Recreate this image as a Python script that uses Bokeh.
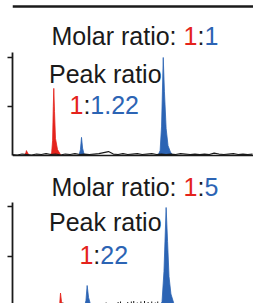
from bokeh.plotting import figure
from bokeh.layouts import column
from bokeh.models import ColumnDataSource, FixedTicker, Span
from bokeh.core.properties import value
from bokeh.embed import file_html
from bokeh.resources import INLINE

RED = "#e4231c"
BLUE = "#2c64b4"
INK = "#1a1a1a"
FONT = value("Liberation Sans")

# ---------------- data: panel 1 (molar ratio 1:1) ----------------
p1_red_a_t = [0.50, 0.56, 0.58, 0.63, 0.71]
p1_red_a_y = [0.00, 0.06, 0.10, 0.05, 0.00]
p1_red_b_t = [1.54, 1.63, 1.67, 1.70, 1.72, 1.75, 1.79, 1.875, 2.00, 2.04]
p1_red_b_y = [0.00, 0.05, 0.30, 1.00, 1.37, 0.90, 0.35, 0.12, 0.02, 0.00]
p1_blue_a_t = [2.77, 2.83, 2.875, 2.92, 2.98, 3.04]
p1_blue_a_y = [0.00, 0.12, 0.37, 0.15, 0.03, 0.00]
p1_blue_b_t = [6.06, 6.15, 6.21, 6.28, 6.33, 6.40, 6.48, 6.58, 6.69]
p1_blue_b_y = [0.00, 0.10, 0.60, 2.00, 1.30, 0.55, 0.20, 0.07, 0.00]
p1_noise_t = [0.0, 0.2, 0.4, 0.6, 0.8, 1.0, 1.2, 1.4, 1.6, 1.8, 2.0, 2.2, 2.4, 2.6,
              2.8, 3.0, 3.2, 3.4, 3.6, 3.8, 4.0, 4.2, 4.4, 4.6, 4.8, 5.0, 5.2, 5.4,
              5.6, 5.8, 6.0, 6.2, 6.4, 6.6, 6.8, 7.0, 7.2, 7.4, 7.6, 7.8, 8.0, 8.2,
              8.4, 8.6, 8.8, 9.0, 9.2, 9.4, 9.6, 9.8, 10.0]
p1_noise_y = [0.02, 0.01, 0.03, 0.02, 0.01, 0.03, 0.02, 0.04, 0.02, 0.03, 0.01, 0.03,
              0.02, 0.04, 0.02, 0.03, 0.02, 0.03, 0.04, 0.06, 0.08, 0.03, 0.02, 0.04,
              0.02, 0.03, 0.04, 0.02, 0.03, 0.04, 0.02, 0.03, 0.02, 0.03, 0.02, 0.04,
              0.03, 0.02, 0.03, 0.02, 0.03, 0.02, 0.05, 0.03, 0.02, 0.03, 0.04, 0.02,
              0.03, 0.02, 0.03]
p1_title = ["Molar ratio: ", "1", ":", "1"]
p1_title_col = [INK, RED, INK, BLUE]
p1_ratio = ["1", ":", "1.22"]
p1_ratio_col = [RED, INK, BLUE]

# ---------------- data: panel 2 (molar ratio 1:5) ----------------
p2_red_t = [1.92, 1.97, 2.00, 2.04, 2.125]
p2_red_y = [0.00, 0.08, 0.27, 0.10, 0.00]
p2_blue_a_t = [3.00, 3.06, 3.11, 3.17, 3.25, 3.33]
p2_blue_a_y = [0.00, 0.12, 0.42, 0.18, 0.04, 0.00]
p2_blue_b_t = [6.15, 6.23, 6.31, 6.40, 6.46, 6.52, 6.60, 6.71, 6.83]
p2_blue_b_y = [0.00, 0.10, 0.70, 1.98, 1.30, 0.60, 0.25, 0.08, 0.00]
p2_noise_t = [2.10, 2.25, 2.45, 2.60, 3.40, 3.55, 3.75, 3.90, 4.10, 4.25, 4.40,
              4.50, 4.65, 4.80, 4.95, 5.05, 5.20, 5.35, 5.50, 5.65, 5.80, 5.95, 6.05]
p2_noise_y = [0.08, 0.05, 0.06, 0.05, 0.05, 0.07, 0.06, 0.08, 0.05, 0.07, 0.09,
              0.10, 0.07, 0.09, 0.10, 0.11, 0.08, 0.10, 0.11, 0.09, 0.10, 0.08, 0.10]
p2_title = ["Molar ratio: ", "1", ":", "5"]
p2_title_col = [INK, RED, INK, BLUE]
p2_ratio = ["1", ":", "22"]
p2_ratio_col = [RED, INK, BLUE]

TICKS = [1, 2]
FS = "25px"


def panel(height, yr, axis_top, title, title_col, title_y, ratio, ratio_col,
          ratio_x, ratio_y, peak_y, peaks, top_rule):
    p = figure(width=253, height=height, x_range=(0, 10.04), y_range=yr,
               output_backend="svg", toolbar_location=None,
               min_border_left=12, min_border_right=0, min_border_top=0,
               min_border_bottom=0)
    p.outline_line_color = None
    p.grid.visible = False
    p.xaxis.visible = False
    ax = p.yaxis[0]
    ax.ticker = FixedTicker(ticks=TICKS)
    ax.bounds = (0, axis_top)
    ax.major_tick_out = 5
    ax.major_tick_in = 0
    ax.minor_tick_line_color = None
    ax.major_label_overrides = {t: "" for t in TICKS}
    ax.major_label_standoff = 0
    ax.axis_line_width = 1.8
    ax.major_tick_line_width = 1.5
    ax.axis_line_color = INK
    ax.major_tick_line_color = INK

    if top_rule is not None:
        p.add_layout(Span(location=top_rule, dimension="width",
                          line_color=INK, line_width=2.5))

    # texts
    offs = [0, 132, 146, 153]
    src = ColumnDataSource(dict(x=[1.625] * len(title), y=[title_y] * len(title),
                                text=title, c=title_col, o=offs[:len(title)]))
    p.text(x="x", y="y", text="text", source=src, text_color="c", x_offset="o",
           text_font=FONT, text_font_size=FS, text_baseline="alphabetic")
    p.text(x=[1.52], y=[peak_y], text=["Peak ratio"], text_color=INK,
           text_font=FONT, text_font_size=FS, text_baseline="alphabetic")
    roffs = [0, 13.9, 20.85]
    src2 = ColumnDataSource(dict(x=[ratio_x] * len(ratio), y=[ratio_y] * len(ratio),
                                 text=ratio, c=ratio_col, o=roffs[:len(ratio)]))
    p.text(x="x", y="y", text="text", source=src2, text_color="c", x_offset="o",
           text_font=FONT, text_font_size=FS, text_baseline="alphabetic")

    for (t, y, c) in peaks:
        p.patch(t, y, fill_color=c, line_color=c, line_width=0.8)
    return p


top = panel(160, (-0.102, 3.163), 2.1, p1_title, p1_title_col, 2.43,
            p1_ratio, p1_ratio_col, 2.375, 1.04, 1.67,
            [(p1_red_a_t, p1_red_a_y, RED), (p1_red_b_t, p1_red_b_y, RED),
             (p1_blue_a_t, p1_blue_a_y, BLUE), (p1_blue_b_t, p1_blue_b_y, BLUE)],
            3.04)
top.line(p1_noise_t, p1_noise_y, line_color=INK, line_width=1.2)
top.add_layout(Span(location=0, dimension="width", line_color=INK,
                    line_width=1.5))

bottom = panel(143, (0.06, 2.92), 2.08, p2_title, p2_title_col, 2.40,
               p2_ratio, p2_ratio_col, 2.79, 1.04, 1.70,
               [(p2_red_t, p2_red_y, RED), (p2_blue_a_t, p2_blue_a_y, BLUE),
                (p2_blue_b_t, p2_blue_b_y, BLUE)],
               None)
bottom.segment(x0=p2_noise_t, y0=[0] * len(p2_noise_t), x1=p2_noise_t,
               y1=p2_noise_y, line_color=INK, line_width=1)

p = column(top, bottom, spacing=0)
open("out.html", "w").write(file_html(p, INLINE))
